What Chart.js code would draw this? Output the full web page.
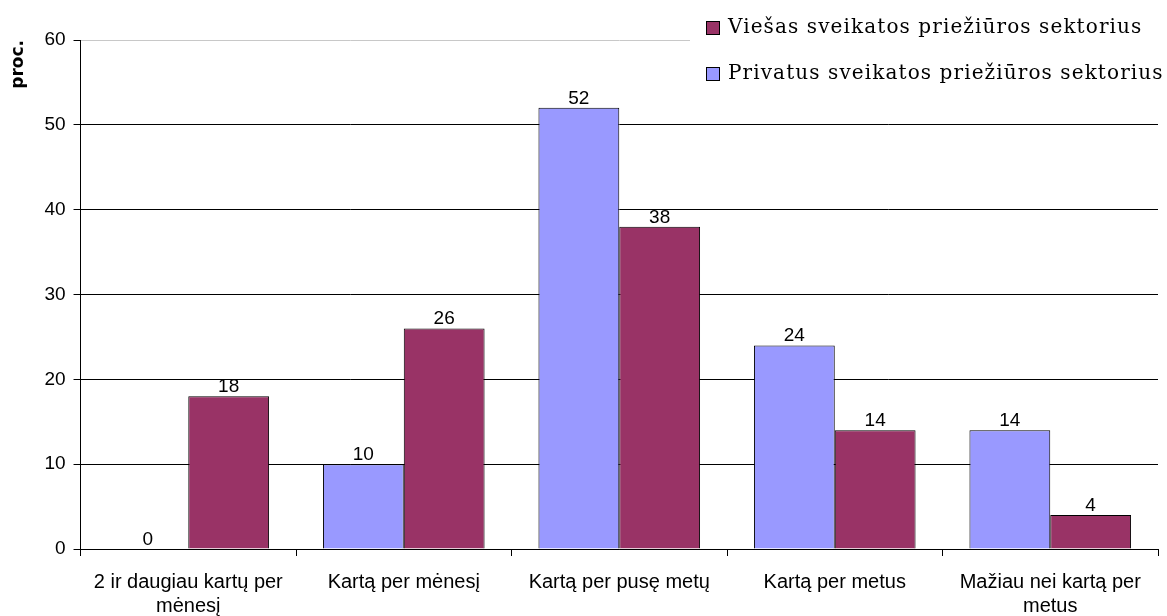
<!DOCTYPE html>
<html>
<head>
<meta charset="utf-8">
<script src="https://cdn.jsdelivr.net/npm/chart.js@4"></script>
<style>
    body { margin: 0; background: #fff; }
    #wrap { width: 1167px; height: 616px; }
</style>
</head>
<body>
<div id="wrap"><canvas id="chartCanvas" width="1167" height="616"></canvas></div>
<script>
// Chart data
const categories = [
    ['2 ir daugiau kartų per', 'mėnesį'],
    'Kartą per mėnesį',
    'Kartą per pusę metų',
    'Kartą per metus',
    ['Mažiau nei kartą per', 'metus']
];
const privatusValues = [0, 10, 52, 24, 14];
const viesasValues = [18, 26, 38, 14, 4];
const yTicks = [0, 10, 20, 30, 40, 50, 60];

const privatusLabel = 'Privatus sveikatos priežiūros sektorius';
const viesasLabel = 'Viešas sveikatos priežiūros sektorius';

const sansFont = 'Arial, "Liberation Sans", "DejaVu Sans", sans-serif';

// Value labels above bars
const barLabels = {
    id: 'barLabels',
    afterDatasetsDraw(chart) {
        const ctx = chart.ctx;
        ctx.save();
        ctx.font = '19px ' + sansFont;
        ctx.fillStyle = '#000';
        ctx.textAlign = 'center';
        ctx.textBaseline = 'alphabetic';
        chart.data.datasets.forEach((ds, i) => {
            chart.getDatasetMeta(i).data.forEach((bar, j) => {
                ctx.fillText(ds.data[j], bar.x, bar.y - 4);
            });
        });
        ctx.restore();
    }
};

// Legend box in the top right corner, drawn over the plot
const cornerLegend = {
    id: 'cornerLegend',
    afterDraw(chart) {
        const ctx = chart.ctx;
        ctx.save();
        ctx.fillStyle = '#fff';
        ctx.fillRect(690, 0, chart.width - 690, 96);
        ctx.font = '20px "DejaVu Serif", serif';
        ctx.letterSpacing = '1.1px';
        ctx.textBaseline = 'middle';
        const items = chart.data.datasets.slice().reverse();
        items.forEach((ds, i) => {
            const y = 28 + i * 46;
            ctx.fillStyle = ds.backgroundColor;
            ctx.fillRect(706, y - 7, 14, 14);
            ctx.strokeStyle = '#000';
            ctx.lineWidth = 1;
            ctx.strokeRect(706.5, y - 6.5, 13, 13);
            ctx.fillStyle = '#000';
            ctx.fillText(ds.label, 728, y);
        });
        ctx.restore();
    }
};

new Chart(document.getElementById('chartCanvas'), {
    type: 'bar',
    data: {
        labels: categories,
        datasets: [{
            label: privatusLabel,
            data: privatusValues,
            backgroundColor: '#9999FF',
            borderColor: '#000',
            borderWidth: 1
        }, {
            label: viesasLabel,
            data: viesasValues,
            backgroundColor: '#993366',
            borderColor: '#000',
            borderWidth: 1
        }]
    },
    options: {
        responsive: false,
        animation: false,
        layout: {
            padding: { top: 40, right: 9, left: 8, bottom: -16 }
        },
        plugins: {
            legend: { display: false },
            tooltip: { enabled: false }
        },
        datasets: {
            bar: {
                categoryPercentage: 0.75,
                barPercentage: 1
            }
        },
        scales: {
            x: {
                grid: {
                    drawOnChartArea: false,
                    color: '#000',
                    tickLength: 7
                },
                border: { color: '#000' },
                ticks: {
                    color: '#000',
                    maxRotation: 0,
                    padding: 14,
                    font: { family: sansFont, size: 20, lineHeight: 1.2 }
                }
            },
            y: {
                min: 0,
                max: 60,
                afterBuildTicks(axis) {
                    axis.ticks = yTicks.map(v => ({ value: v }));
                },
                grid: {
                    color: ctx => ctx.tick && ctx.tick.value === 60 ? '#c8c8c8' : '#000',
                    tickColor: '#000',
                    tickLength: 7
                },
                border: { color: '#000' },
                ticks: {
                    color: '#000',
                    padding: 8,
                    font: { family: sansFont, size: 19 }
                },
                title: {
                    display: true,
                    text: 'proc.',
                    align: 'end',
                    color: '#000',
                    padding: { top: 0, bottom: 8 },
                    font: { family: '"DejaVu Sans", sans-serif', size: 17, weight: 'bold' }
                }
            }
        }
    },
    plugins: [barLabels, cornerLegend]
});
</script>
</body>
</html>
